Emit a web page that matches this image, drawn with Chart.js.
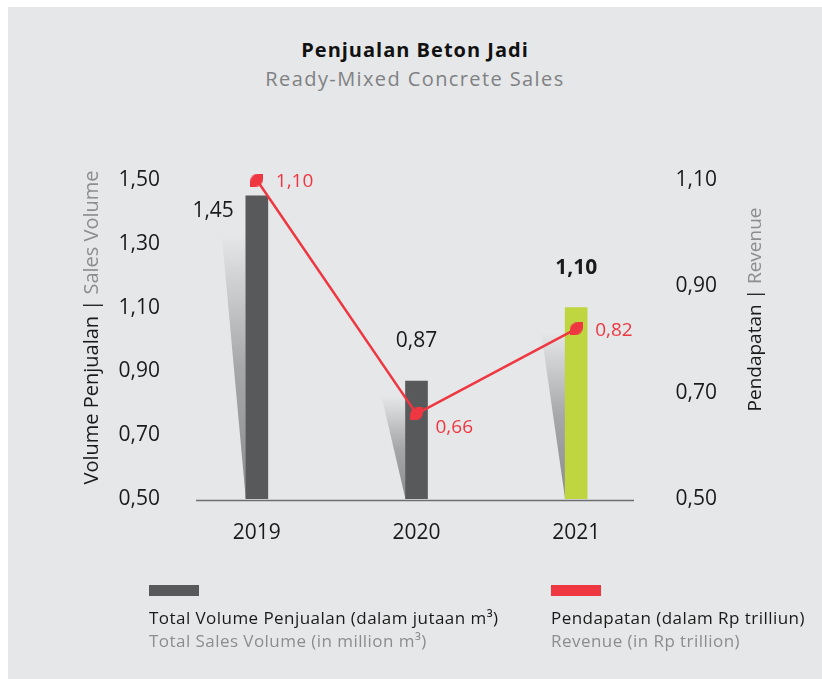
<!DOCTYPE html>
<html>
<head>
<meta charset="utf-8">
<script src="https://cdn.jsdelivr.net/npm/chart.js@4.4.0/dist/chart.umd.min.js"></script>
<style>
  html, body { margin: 0; padding: 0; background: #fff; }
  body { width: 822px; height: 679px; position: relative; overflow: hidden; font-family: 'Open Sans', sans-serif; }
  .panel { position: absolute; left: 8px; top: 7px; width: 814px; height: 672px; background: #e6e7e8; }
  .chart-box { position: absolute; left: 0; top: 0; width: 822px; height: 679px; }
  .head { position: absolute; left: 8px; width: 814px; text-align: center; line-height: 26px; }
  .title { top: 37px; font-size: 20px; font-weight: 700; color: #111; letter-spacing: 1px; }
  .subtitle { top: 66px; font-size: 20px; color: #808184; letter-spacing: 1.4px; }
  .legend { position: absolute; top: 585px; font-size: 17px; line-height: 23px; color: #1a1a1a; letter-spacing: 0.45px; }
  .legend .swatch { width: 50px; height: 11px; margin-bottom: 10px; }
  .legend .en { color: #8c8d8f; }
</style>
</head>
<body>
<div class="panel"></div>
<div class="head title">Penjualan Beton Jadi</div>
<div class="head subtitle">Ready-Mixed Concrete Sales</div>
<div class="chart-box"><canvas id="chart" width="822" height="679"></canvas></div>

<div class="legend" style="left:149px">
  <div class="swatch" style="background:#58595b"></div>
  <div>Total Volume Penjualan (dalam jutaan m³)</div>
  <div class="en">Total Sales Volume (in million m³)</div>
</div>
<div class="legend" style="left:551px">
  <div class="swatch" style="background:#ef3742"></div>
  <div>Pendapatan (dalam Rp trilliun)</div>
  <div class="en">Revenue (in Rp trillion)</div>
</div>

<script>
// Data
const years = ['2019', '2020', '2021'];
const salesVolume = [1.45, 0.87, 1.10];   // juta m3
const revenue = [1.10, 0.66, 0.82];       // Rp triliun
const volumeTicks = [0.50, 0.70, 0.90, 1.10, 1.30, 1.50];
const revenueTicks = [0.50, 0.70, 0.90, 1.10];

const DARK = '#58595b';
const GREEN = '#bfd641';
const RED = '#ef3742';
const INK = '#1a1a1a';
const GREY_TEXT = '#8c8d8f';
const FONT = "'Open Sans', sans-serif";

const fmt = v => Number(v).toFixed(2).replace('.', ',');

// leaf shaped marker (two sharp corners, two rounded)
function leafMarker(size, color) {
    const c = document.createElement('canvas');
    c.width = size;
    c.height = size;
    const g = c.getContext('2d');
    const r = size * 0.6;
    g.fillStyle = color;
    g.beginPath();
    g.moveTo(0, size);
    g.arcTo(0, 0, size, 0, r);
    g.lineTo(size, 0);
    g.arcTo(size, size, 0, size, r);
    g.closePath();
    g.fill();
    return c;
}

// base line + grey wedge shadow on the left of every bar
const barShadow = {
    id: 'barShadow',
    beforeDatasetsDraw(chart) {
        const ctx = chart.ctx;
        const area = chart.chartArea;
        ctx.save();
        ctx.strokeStyle = '#6d6e71';
        ctx.lineWidth = 1.5;
        ctx.beginPath();
        ctx.moveTo(area.left + 19, area.bottom + 1.5);
        ctx.lineTo(area.right - 22, area.bottom + 1.5);
        ctx.stroke();

        chart.getDatasetMeta(0).data.forEach(bar => {
            const left = bar.x - bar.width / 2;
            const base = area.bottom;
            const top = bar.y + (base - bar.y) * 0.13;
            const grad = ctx.createLinearGradient(0, top, 0, base);
            grad.addColorStop(0, 'rgba(150,151,153,0)');
            grad.addColorStop(0.5, 'rgba(150,151,153,0.8)');
            grad.addColorStop(1, 'rgba(138,139,141,1)');
            ctx.fillStyle = grad;
            ctx.beginPath();
            ctx.moveTo(left - 24, top);
            ctx.lineTo(left, top);
            ctx.lineTo(left, base);
            ctx.closePath();
            ctx.fill();
        });
        ctx.restore();
    }
};

// value labels for bars and line points
const valueLabels = {
    id: 'valueLabels',
    afterDatasetsDraw(chart) {
        const ctx = chart.ctx;
        ctx.save();
        ctx.textBaseline = 'middle';

        chart.getDatasetMeta(0).data.forEach((bar, i) => {
            const last = i === salesVolume.length - 1;
            ctx.font = (last ? '700 ' : '400 ') + '21px ' + FONT;
            ctx.fillStyle = INK;
            if (i === 0) {
                ctx.textAlign = 'right';
                ctx.fillText(fmt(salesVolume[i]), bar.x - bar.width / 2 - 12, bar.y + 15);
            } else {
                ctx.textAlign = 'center';
                ctx.fillText(fmt(salesVolume[i]), bar.x, bar.y - 40);
            }
        });

        const dy = [2, 14, 2];
        ctx.font = '400 19px ' + FONT;
        ctx.fillStyle = RED;
        ctx.textAlign = 'left';
        chart.getDatasetMeta(1).data.forEach((pt, i) => {
            ctx.fillText(fmt(revenue[i]), pt.x + 19, pt.y + dy[i]);
        });
        ctx.restore();
    }
};

// two-tone rotated axis titles
function drawRotated(ctx, x, y, size, parts) {
    ctx.save();
    ctx.translate(x, y);
    ctx.rotate(-Math.PI / 2);
    ctx.font = '400 ' + size + 'px ' + FONT;
    ctx.textBaseline = 'middle';
    const total = parts.reduce((s, p) => s + ctx.measureText(p[0]).width, 0);
    let cx = -total / 2;
    parts.forEach(p => {
        ctx.fillStyle = p[1];
        ctx.textAlign = 'left';
        ctx.fillText(p[0], cx, 0);
        cx += ctx.measureText(p[0]).width;
    });
    ctx.restore();
}

const axisTitles = {
    id: 'axisTitles',
    afterDraw(chart) {
        const ctx = chart.ctx;
        const a = chart.chartArea;
        drawRotated(ctx, a.left - 85, (a.top + a.bottom) / 2 - 12, 20,
            [['Volume Penjualan | ', INK], ['Sales Volume', GREY_TEXT]]);
        drawRotated(ctx, a.right + 100, (a.top + a.bottom) / 2 - 30, 19,
            [['Pendapatan | ', INK], ['Revenue', GREY_TEXT]]);
    }
};

new Chart(document.getElementById('chart'), {
    type: 'bar',
    data: {
        labels: years,
        datasets: [{
            type: 'bar',
            label: 'Total Volume Penjualan',
            data: salesVolume,
            yAxisID: 'yVol',
            backgroundColor: [DARK, DARK, GREEN],
            barThickness: 22,
            order: 2
        }, {
            type: 'line',
            label: 'Pendapatan',
            data: revenue,
            yAxisID: 'yRev',
            borderColor: RED,
            borderWidth: 2.5,
            tension: 0,
            clip: false,
            pointStyle: leafMarker(13, RED),
            pointRadius: 7,
            order: 1
        }]
    },
    options: {
        responsive: false,
        animation: false,
        events: [],
        layout: {
            padding: { left: 117, right: 105, top: 180, bottom: 120 }
        },
        plugins: {
            legend: { display: false },
            tooltip: { enabled: false }
        },
        scales: {
            x: {
                grid: { display: false, drawTicks: false },
                border: { display: false },
                ticks: {
                    color: INK,
                    padding: 21,
                    font: { family: FONT, size: 21 }
                },
                afterFit(scale) { scale.height = 60; }
            },
            yVol: {
                position: 'left',
                min: 0.5,
                max: 1.5,
                grid: { display: false, drawTicks: false },
                border: { display: false },
                afterBuildTicks(scale) { scale.ticks = volumeTicks.map(v => ({ value: v })); },
                ticks: {
                    color: INK,
                    padding: 17,
                    font: { family: FONT, size: 21 },
                    callback: v => fmt(v)
                },
                afterFit(scale) { scale.width = 60; }
            },
            yRev: {
                position: 'right',
                min: 0.5,
                max: 1.1,
                grid: { display: false, drawTicks: false },
                border: { display: false },
                afterBuildTicks(scale) { scale.ticks = revenueTicks.map(v => ({ value: v })); },
                ticks: {
                    color: INK,
                    padding: 0,
                    crossAlign: 'far',
                    font: { family: FONT, size: 21 },
                    callback: v => fmt(v)
                },
                afterFit(scale) { scale.width = 61; }
            }
        }
    },
    plugins: [barShadow, valueLabels, axisTitles]
});
</script>
</body>
</html>
